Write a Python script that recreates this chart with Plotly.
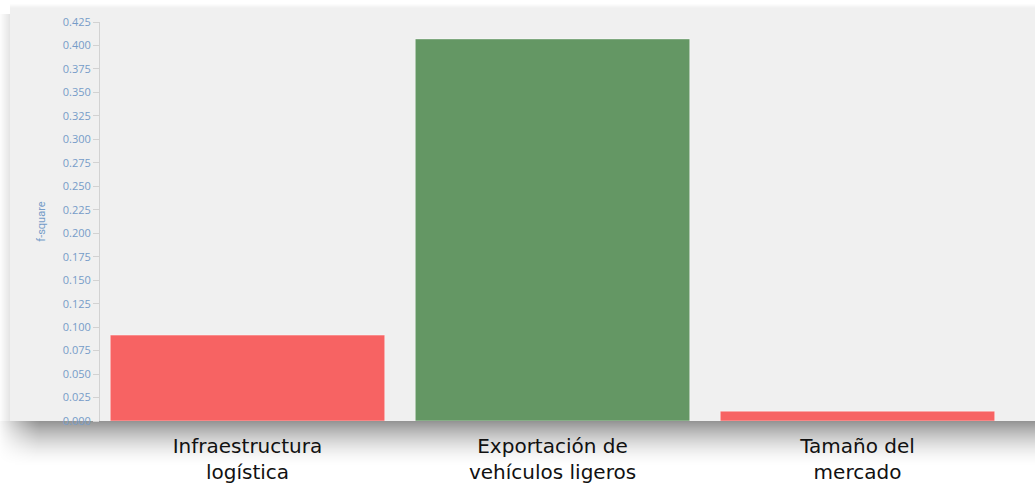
import plotly.graph_objects as go

categories = ["Infraestructura<br>logística", "Exportación de<br>vehículos ligeros", "Tamaño del<br>mercado"]
values = [0.0915, 0.407, 0.0105]
bar_colors = ["#f76363", "#649764", "#f76363"]
tick_vals = [i * 0.025 for i in range(18)]
tick_text = [f"{v:.3f}" for v in tick_vals]

W, H = 1035, 487
L, R, T, B = 100, 10, 22, 66
pw, ph = W - L - R, H - T - B

def px(x):
    return (x - L) / pw

def py(y):
    return 1 - (y - T) / ph

fig = go.Figure()
fig.add_trace(go.Bar(
    x=[0, 1, 2], y=values, width=0.9,
    marker=dict(color=bar_colors, line=dict(color="rgba(255,255,255,0.45)", width=1)),
    hoverinfo="y",
))

shapes = []
# faint top shadow
for i in range(4):
    shapes.append(dict(type="rect", xref="paper", yref="paper", layer="below",
                       x0=px(10), x1=px(1035), y0=py(8 - i), y1=py(7 - i),
                       fillcolor=f"rgba(0,0,0,{0.05 * (1 - i / 4):.3f})", line=dict(width=0)))
# panel
shapes.append(dict(type="rect", xref="paper", yref="paper", layer="below",
                   x0=px(10), x1=px(1035), y0=py(421), y1=py(8),
                   fillcolor="#f0f0f0", line=dict(width=0)))
# left shadow
for i in range(10):
    x0 = 10 - (i + 1)
    a = 0.10 * (1 - i / 10)
    shapes.append(dict(type="rect", xref="paper", yref="paper", layer="below",
                       x0=px(x0), x1=px(x0 + 1), y0=py(421), y1=py(14),
                       fillcolor=f"rgba(0,0,0,{a:.3f})", line=dict(width=0)))
# bottom shadow (smooth gradient bands)
n = 45
for i in range(n):
    y0 = 421 + i
    t = i / n
    a = 0.42 * (1 - t) ** 1.7
    shapes.append(dict(type="rect", xref="paper", yref="paper", layer="below",
                       x0=px(0), x1=px(1035), y0=py(y0 + 1), y1=py(y0),
                       fillcolor=f"rgba(0,0,0,{a:.3f})", line=dict(width=0)))
# fade shadow at left end
for i in range(40):
    a = 0.9 * (1 - i / 40) ** 1.3
    shapes.append(dict(type="rect", xref="paper", yref="paper", layer="below",
                       x0=px(i), x1=px(i + 1), y0=py(487), y1=py(421),
                       fillcolor=f"rgba(255,255,255,{a:.3f})", line=dict(width=0)))

fig.update_layout(
    width=W, height=H,
    margin=dict(l=L, r=R, t=T, b=B, autoexpand=False),
    paper_bgcolor="white",
    plot_bgcolor="rgba(0,0,0,0)",
    showlegend=False,
    shapes=shapes,
    xaxis=dict(
        range=[-0.4836, 2.5492], automargin=False,
        tickmode="array", tickvals=[0, 1, 2], ticktext=categories,
        showgrid=False, zeroline=False, showline=False, ticks="",
        tickfont=dict(family="DejaVu Sans", size=20, color="#111111"),
        ticklabelstandoff=11,
    ),
    yaxis=dict(
        range=[0, 0.425], automargin=False,
        tickmode="array", tickvals=tick_vals, ticktext=tick_text,
        showgrid=False, zeroline=False,
        showline=True, linecolor="#d2d2d2", linewidth=1,
        ticks="outside", ticklen=6, tickcolor="#d2d2d2",
        tickfont=dict(family="Open Sans", size=11, color="#769cc8"),
        title=dict(text="f-square", standoff=14,
                   font=dict(family="Roboto", size=11, color="#769cc8")),
    ),
)

fig.write_html("out.html")
